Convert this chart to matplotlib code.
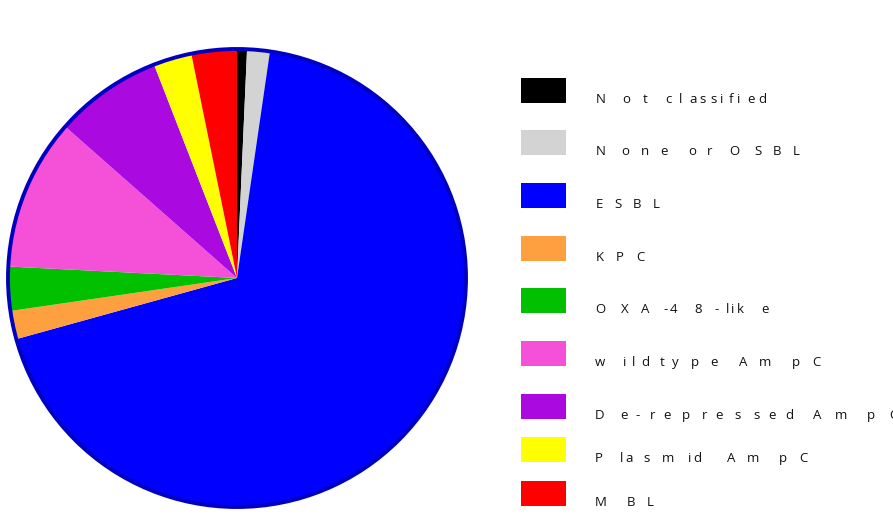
import matplotlib.pyplot as plt
from matplotlib.patches import Circle, Rectangle

categories = ['Not classified', 'None or OSBL', 'ESBL', 'KPC', 'OXA-48-like',
              'wildtype AmpC', 'De-repressed AmpC', 'Plasmid AmpC', 'MBL']
shares = [0.7, 1.6, 68.4, 2.0, 3.1, 10.7, 7.6, 2.7, 3.2]
colors = ['#000000', '#d3d3d3', '#0000ff', '#ffa040', '#00c000',
          '#f550d8', '#aa0ae0', '#ffff00', '#ff0000']

# the legend text in the original is letter-spaced very unevenly,
# so each glyph gets its own x (pixels)
glyph_x = [
    [596, 622, 643, 665, 679, 689, 699, 710, 720, 729, 737, 747, 758],
    [596, 621, 641, 660, 688, 707, 729, 754, 773, 793],
    [596, 614, 633, 653],
    [596, 616, 636],
    [595, 621, 641, 663, 670, 694, 714, 726, 731, 737, 761],
    [595, 623, 632, 641, 660, 672, 691, 710, 739, 759, 792, 812],
    [595, 620, 635, 650, 663, 682, 702, 715, 734, 753, 768, 785, 813, 835, 867, 889],
    [595, 620, 625, 643, 662, 688, 693, 727, 747, 779, 799],
    [595, 627, 647],
]
box_tops = [78, 130, 183, 236, 288, 341, 394, 437, 481]

W, H = 893, 521
fig = plt.figure(figsize=(W / 100, H / 100), dpi=100)
ax = fig.add_axes([0, 0, 1, 1])

cx, cy, r = 237, H - 278, 229
ax.pie(shares, colors=colors, startangle=90, counterclock=False,
       center=(cx, cy), radius=r, wedgeprops=dict(linewidth=0),
       frame=True)
ax.add_patch(Circle((cx, cy), r, fill=False, edgecolor='#0000c0', linewidth=2.8))
ax.set_xlim(0, W)
ax.set_ylim(0, H)
ax.set_aspect('equal')
ax.axis('off')

# legend
for top, name, xs, col in zip(box_tops, categories, glyph_x, colors):
    ax.add_patch(Rectangle((521, H - top - 25), 45, 25, facecolor=col, edgecolor='none'))
    chars = name.replace(' ', '')
    for ch, x in zip(chars, xs):
        ax.text(x, H - top - 25, ch, fontsize=9.5, family='Open Sans',
                color='#111111', va='baseline', ha='left', clip_on=False)

fig.savefig('out.png', dpi=100)
